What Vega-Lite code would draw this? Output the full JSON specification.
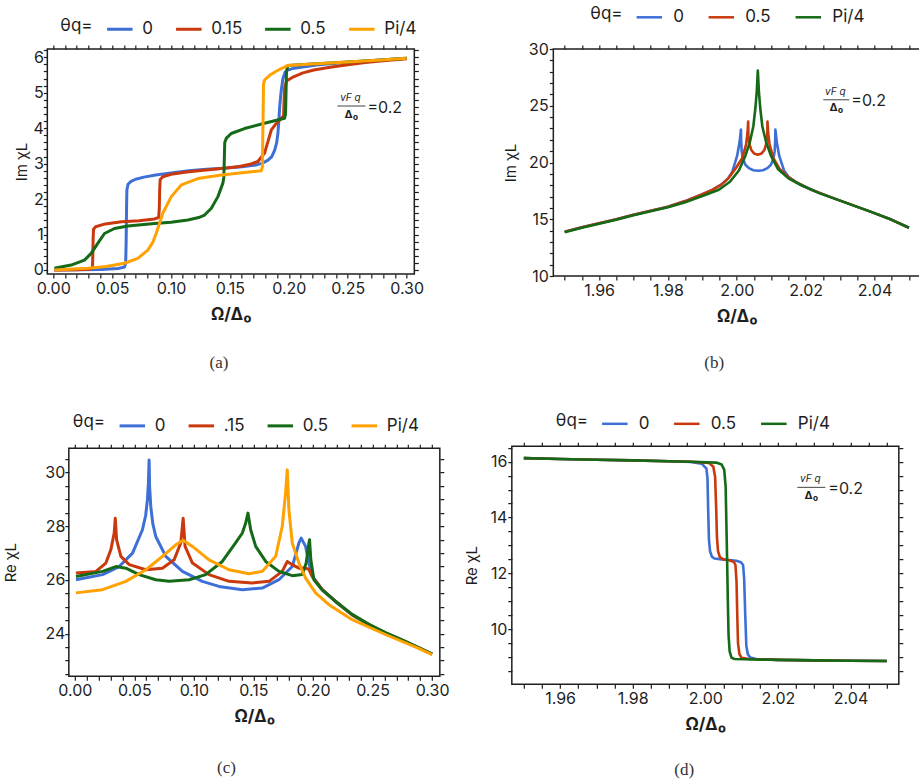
{
  "$schema": "https://vega.github.io/schema/vega-lite/v6.json",
  "background": "white",
  "autosize": {"type": "pad"},
  "padding": {"left": 3, "top": 2, "right": 0, "bottom": 0},
  "datasets": {
    "a": [
      {"x":0.001,"y":0,"s":"0"},{"x":0.02,"y":0.005,"s":"0"},{"x":0.04,"y":0.015,"s":"0"},{"x":0.055,"y":0.04,"s":"0"},{"x":0.0605,"y":0.08,"s":"0"},{"x":0.0615,"y":0.2,"s":"0"},{"x":0.0619,"y":0.8,"s":"0"},{"x":0.0622,"y":1.6,"s":"0"},{"x":0.0625,"y":2.25,"s":"0"},{"x":0.0635,"y":2.42,"s":"0"},{"x":0.066,"y":2.5,"s":"0"},{"x":0.07,"y":2.56,"s":"0"},{"x":0.077,"y":2.62,"s":"0"},{"x":0.087,"y":2.68,"s":"0"},{"x":0.1,"y":2.74,"s":"0"},{"x":0.115,"y":2.8,"s":"0"},{"x":0.13,"y":2.84,"s":"0"},{"x":0.145,"y":2.87,"s":"0"},{"x":0.16,"y":2.91,"s":"0"},{"x":0.172,"y":2.96,"s":"0"},{"x":0.178,"y":3.02,"s":"0"},{"x":0.1823,"y":3.1,"s":"0"},{"x":0.1855,"y":3.2,"s":"0"},{"x":0.188,"y":3.38,"s":"0"},{"x":0.1897,"y":3.6,"s":"0"},{"x":0.1907,"y":3.85,"s":"0"},{"x":0.1915,"y":4.2,"s":"0"},{"x":0.1922,"y":4.6,"s":"0"},{"x":0.1935,"y":5.05,"s":"0"},{"x":0.195,"y":5.4,"s":"0"},{"x":0.1968,"y":5.58,"s":"0"},{"x":0.1985,"y":5.63,"s":"0"},{"x":0.203,"y":5.68,"s":"0"},{"x":0.21,"y":5.72,"s":"0"},{"x":0.225,"y":5.79,"s":"0"},{"x":0.25,"y":5.86,"s":"0"},{"x":0.275,"y":5.92,"s":"0"},{"x":0.3,"y":5.97,"s":"0"},
      {"x":0.001,"y":0,"s":"0.15"},{"x":0.02,"y":0.01,"s":"0.15"},{"x":0.03,"y":0.02,"s":"0.15"},{"x":0.0333,"y":0.05,"s":"0.15"},{"x":0.0336,"y":0.4,"s":"0.15"},{"x":0.0339,"y":0.9,"s":"0.15"},{"x":0.0342,"y":1.15,"s":"0.15"},{"x":0.036,"y":1.22,"s":"0.15"},{"x":0.0442,"y":1.3,"s":"0.15"},{"x":0.058,"y":1.36,"s":"0.15"},{"x":0.0728,"y":1.39,"s":"0.15"},{"x":0.086,"y":1.44,"s":"0.15"},{"x":0.0895,"y":1.48,"s":"0.15"},{"x":0.09,"y":1.7,"s":"0.15"},{"x":0.0904,"y":2.3,"s":"0.15"},{"x":0.0908,"y":2.55,"s":"0.15"},{"x":0.093,"y":2.63,"s":"0.15"},{"x":0.1,"y":2.7,"s":"0.15"},{"x":0.115,"y":2.77,"s":"0.15"},{"x":0.13,"y":2.82,"s":"0.15"},{"x":0.145,"y":2.87,"s":"0.15"},{"x":0.158,"y":2.92,"s":"0.15"},{"x":0.168,"y":2.99,"s":"0.15"},{"x":0.1737,"y":3.06,"s":"0.15"},{"x":0.1794,"y":3.3,"s":"0.15"},{"x":0.1825,"y":3.65,"s":"0.15"},{"x":0.1851,"y":3.95,"s":"0.15"},{"x":0.189,"y":4.12,"s":"0.15"},{"x":0.1936,"y":4.28,"s":"0.15"},{"x":0.1955,"y":4.35,"s":"0.15"},{"x":0.196,"y":4.8,"s":"0.15"},{"x":0.1965,"y":5.15,"s":"0.15"},{"x":0.198,"y":5.33,"s":"0.15"},{"x":0.204,"y":5.45,"s":"0.15"},{"x":0.212,"y":5.56,"s":"0.15"},{"x":0.2212,"y":5.64,"s":"0.15"},{"x":0.235,"y":5.72,"s":"0.15"},{"x":0.25,"y":5.79,"s":"0.15"},{"x":0.265,"y":5.85,"s":"0.15"},{"x":0.28,"y":5.9,"s":"0.15"},{"x":0.3,"y":5.96,"s":"0.15"},
      {"x":0.001,"y":0.05,"s":"0.5"},{"x":0.0152,"y":0.14,"s":"0.5"},{"x":0.0265,"y":0.28,"s":"0.5"},{"x":0.0322,"y":0.47,"s":"0.5"},{"x":0.0378,"y":0.75,"s":"0.5"},{"x":0.0435,"y":1.03,"s":"0.5"},{"x":0.052,"y":1.17,"s":"0.5"},{"x":0.0633,"y":1.24,"s":"0.5"},{"x":0.086,"y":1.31,"s":"0.5"},{"x":0.1,"y":1.35,"s":"0.5"},{"x":0.1143,"y":1.41,"s":"0.5"},{"x":0.1235,"y":1.48,"s":"0.5"},{"x":0.1285,"y":1.55,"s":"0.5"},{"x":0.1342,"y":1.74,"s":"0.5"},{"x":0.1398,"y":2.07,"s":"0.5"},{"x":0.144,"y":2.45,"s":"0.5"},{"x":0.1448,"y":2.6,"s":"0.5"},{"x":0.1452,"y":3.1,"s":"0.5"},{"x":0.1456,"y":3.6,"s":"0.5"},{"x":0.147,"y":3.72,"s":"0.5"},{"x":0.1511,"y":3.85,"s":"0.5"},{"x":0.1624,"y":3.99,"s":"0.5"},{"x":0.1794,"y":4.14,"s":"0.5"},{"x":0.1964,"y":4.28,"s":"0.5"},{"x":0.1972,"y":4.4,"s":"0.5"},{"x":0.1976,"y":5.0,"s":"0.5"},{"x":0.198,"y":5.6,"s":"0.5"},{"x":0.1992,"y":5.77,"s":"0.5"},{"x":0.22,"y":5.81,"s":"0.5"},{"x":0.25,"y":5.87,"s":"0.5"},{"x":0.275,"y":5.92,"s":"0.5"},{"x":0.3,"y":5.97,"s":"0.5"},
      {"x":0.001,"y":0,"s":"Pi/4"},{"x":0.0293,"y":0.05,"s":"Pi/4"},{"x":0.045,"y":0.1,"s":"Pi/4"},{"x":0.0605,"y":0.19,"s":"Pi/4"},{"x":0.0718,"y":0.33,"s":"Pi/4"},{"x":0.0803,"y":0.56,"s":"Pi/4"},{"x":0.0845,"y":0.78,"s":"Pi/4"},{"x":0.0874,"y":1.03,"s":"Pi/4"},{"x":0.093,"y":1.6,"s":"Pi/4"},{"x":0.1002,"y":2.07,"s":"Pi/4"},{"x":0.1087,"y":2.4,"s":"Pi/4"},{"x":0.1228,"y":2.58,"s":"Pi/4"},{"x":0.1426,"y":2.68,"s":"Pi/4"},{"x":0.1624,"y":2.75,"s":"Pi/4"},{"x":0.1766,"y":2.8,"s":"Pi/4"},{"x":0.1775,"y":2.9,"s":"Pi/4"},{"x":0.178,"y":4.0,"s":"Pi/4"},{"x":0.1785,"y":5.25,"s":"Pi/4"},{"x":0.1794,"y":5.36,"s":"Pi/4"},{"x":0.184,"y":5.5,"s":"Pi/4"},{"x":0.19,"y":5.62,"s":"Pi/4"},{"x":0.1992,"y":5.77,"s":"Pi/4"},{"x":0.22,"y":5.81,"s":"Pi/4"},{"x":0.25,"y":5.87,"s":"Pi/4"},{"x":0.275,"y":5.92,"s":"Pi/4"},{"x":0.3,"y":5.97,"s":"Pi/4"}
    ],
    "b": [
      {"x":1.95,"y":13.9,"s":"0"},{"x":1.955,"y":14.3,"s":"0"},{"x":1.96,"y":14.65,"s":"0"},{"x":1.965,"y":15.0,"s":"0"},{"x":1.97,"y":15.4,"s":"0"},{"x":1.975,"y":15.75,"s":"0"},{"x":1.98,"y":16.1,"s":"0"},{"x":1.985,"y":16.6,"s":"0"},{"x":1.99,"y":17.2,"s":"0"},{"x":1.993,"y":17.6,"s":"0"},{"x":1.9955,"y":18.05,"s":"0"},{"x":1.9975,"y":18.6,"s":"0"},{"x":1.9987,"y":19.2,"s":"0"},{"x":2.0001,"y":20.6,"s":"0"},{"x":2.0008,"y":21.8,"s":"0"},{"x":2.0012,"y":22.9,"s":"0"},{"x":2.00125,"y":22.0,"s":"0"},{"x":2.0014,"y":21.0,"s":"0"},{"x":2.0018,"y":20.3,"s":"0"},{"x":2.0025,"y":19.8,"s":"0"},{"x":2.0035,"y":19.5,"s":"0"},{"x":2.0048,"y":19.32,"s":"0"},{"x":2.0062,"y":19.27,"s":"0"},{"x":2.0076,"y":19.32,"s":"0"},{"x":2.0089,"y":19.5,"s":"0"},{"x":2.0099,"y":19.8,"s":"0"},{"x":2.0106,"y":20.3,"s":"0"},{"x":2.011,"y":21.0,"s":"0"},{"x":2.01115,"y":22.0,"s":"0"},{"x":2.0112,"y":22.9,"s":"0"},{"x":2.0116,"y":21.8,"s":"0"},{"x":2.0123,"y":20.6,"s":"0"},{"x":2.0137,"y":19.3,"s":"0"},{"x":2.015,"y":18.75,"s":"0"},{"x":2.017,"y":18.3,"s":"0"},{"x":2.019,"y":17.98,"s":"0"},{"x":2.024,"y":17.3,"s":"0"},{"x":2.029,"y":16.75,"s":"0"},{"x":2.034,"y":16.2,"s":"0"},{"x":2.039,"y":15.65,"s":"0"},{"x":2.045,"y":14.95,"s":"0"},{"x":2.05,"y":14.25,"s":"0"},
      {"x":1.95,"y":13.9,"s":"0.5"},{"x":1.955,"y":14.3,"s":"0.5"},{"x":1.96,"y":14.65,"s":"0.5"},{"x":1.965,"y":15.0,"s":"0.5"},{"x":1.97,"y":15.4,"s":"0.5"},{"x":1.975,"y":15.75,"s":"0.5"},{"x":1.98,"y":16.1,"s":"0.5"},{"x":1.985,"y":16.6,"s":"0.5"},{"x":1.99,"y":17.2,"s":"0.5"},{"x":1.993,"y":17.6,"s":"0.5"},{"x":1.9955,"y":18.05,"s":"0.5"},{"x":1.9975,"y":18.6,"s":"0.5"},{"x":1.9995,"y":19.4,"s":"0.5"},{"x":2.0016,"y":20.4,"s":"0.5"},{"x":2.0027,"y":21.6,"s":"0.5"},{"x":2.0031,"y":22.6,"s":"0.5"},{"x":2.0033,"y":23.6,"s":"0.5"},{"x":2.00335,"y":22.4,"s":"0.5"},{"x":2.0037,"y":21.6,"s":"0.5"},{"x":2.0042,"y":21.1,"s":"0.5"},{"x":2.005,"y":20.8,"s":"0.5"},{"x":2.0061,"y":20.68,"s":"0.5"},{"x":2.0072,"y":20.8,"s":"0.5"},{"x":2.008,"y":21.1,"s":"0.5"},{"x":2.0085,"y":21.6,"s":"0.5"},{"x":2.00885,"y":22.4,"s":"0.5"},{"x":2.0089,"y":23.6,"s":"0.5"},{"x":2.0091,"y":22.6,"s":"0.5"},{"x":2.0095,"y":21.6,"s":"0.5"},{"x":2.0106,"y":20.4,"s":"0.5"},{"x":2.0125,"y":19.4,"s":"0.5"},{"x":2.015,"y":18.7,"s":"0.5"},{"x":2.018,"y":18.15,"s":"0.5"},{"x":2.022,"y":17.55,"s":"0.5"},{"x":2.029,"y":16.75,"s":"0.5"},{"x":2.034,"y":16.2,"s":"0.5"},{"x":2.039,"y":15.65,"s":"0.5"},{"x":2.045,"y":14.95,"s":"0.5"},{"x":2.05,"y":14.25,"s":"0.5"},
      {"x":1.95,"y":13.85,"s":"Pi/4"},{"x":1.955,"y":14.25,"s":"Pi/4"},{"x":1.96,"y":14.6,"s":"Pi/4"},{"x":1.965,"y":14.95,"s":"Pi/4"},{"x":1.97,"y":15.35,"s":"Pi/4"},{"x":1.975,"y":15.7,"s":"Pi/4"},{"x":1.98,"y":16.05,"s":"Pi/4"},{"x":1.985,"y":16.5,"s":"Pi/4"},{"x":1.99,"y":17.05,"s":"Pi/4"},{"x":1.9948,"y":17.6,"s":"Pi/4"},{"x":1.998,"y":18.3,"s":"Pi/4"},{"x":2.0006,"y":19.3,"s":"Pi/4"},{"x":2.0025,"y":20.6,"s":"Pi/4"},{"x":2.0038,"y":21.8,"s":"Pi/4"},{"x":2.0048,"y":23.2,"s":"Pi/4"},{"x":2.0054,"y":24.8,"s":"Pi/4"},{"x":2.0058,"y":26.3,"s":"Pi/4"},{"x":2.0061,"y":28.1,"s":"Pi/4"},{"x":2.0064,"y":26.3,"s":"Pi/4"},{"x":2.0068,"y":24.8,"s":"Pi/4"},{"x":2.0074,"y":23.2,"s":"Pi/4"},{"x":2.0085,"y":21.8,"s":"Pi/4"},{"x":2.0099,"y":20.6,"s":"Pi/4"},{"x":2.012,"y":19.4,"s":"Pi/4"},{"x":2.015,"y":18.6,"s":"Pi/4"},{"x":2.019,"y":17.95,"s":"Pi/4"},{"x":2.024,"y":17.3,"s":"Pi/4"},{"x":2.029,"y":16.75,"s":"Pi/4"},{"x":2.034,"y":16.2,"s":"Pi/4"},{"x":2.039,"y":15.65,"s":"Pi/4"},{"x":2.045,"y":14.95,"s":"Pi/4"},{"x":2.05,"y":14.25,"s":"Pi/4"}
    ],
    "c": [
      {"x":0.001,"y":26.01,"s":"0"},{"x":0.0233,"y":26.2,"s":"0"},{"x":0.0373,"y":26.5,"s":"0"},{"x":0.0485,"y":27.0,"s":"0"},{"x":0.0568,"y":27.87,"s":"0"},{"x":0.0595,"y":28.4,"s":"0"},{"x":0.061,"y":28.99,"s":"0"},{"x":0.0618,"y":29.6,"s":"0"},{"x":0.0624,"y":30.47,"s":"0"},{"x":0.0628,"y":29.5,"s":"0"},{"x":0.0638,"y":28.74,"s":"0"},{"x":0.0655,"y":28.1,"s":"0"},{"x":0.068,"y":27.62,"s":"0"},{"x":0.0764,"y":26.88,"s":"0"},{"x":0.0904,"y":26.32,"s":"0"},{"x":0.1071,"y":25.95,"s":"0"},{"x":0.1211,"y":25.76,"s":"0"},{"x":0.1407,"y":25.64,"s":"0"},{"x":0.1574,"y":25.7,"s":"0"},{"x":0.1714,"y":26.01,"s":"0"},{"x":0.1826,"y":26.5,"s":"0"},{"x":0.1882,"y":27.38,"s":"0"},{"x":0.1901,"y":27.56,"s":"0"},{"x":0.1938,"y":27.25,"s":"0"},{"x":0.1966,"y":26.63,"s":"0"},{"x":0.1994,"y":26.13,"s":"0"},{"x":0.2078,"y":25.64,"s":"0"},{"x":0.219,"y":25.2,"s":"0"},{"x":0.2329,"y":24.7,"s":"0"},{"x":0.2469,"y":24.34,"s":"0"},{"x":0.2608,"y":24.03,"s":"0"},{"x":0.2748,"y":23.76,"s":"0"},{"x":0.2888,"y":23.47,"s":"0"},{"x":0.3,"y":23.24,"s":"0"},
      {"x":0.001,"y":26.26,"s":".15"},{"x":0.0178,"y":26.32,"s":".15"},{"x":0.0261,"y":26.63,"s":".15"},{"x":0.0303,"y":27.13,"s":".15"},{"x":0.0331,"y":27.75,"s":".15"},{"x":0.034,"y":28.3,"s":".15"},{"x":0.0351,"y":27.5,"s":".15"},{"x":0.0387,"y":26.88,"s":".15"},{"x":0.0457,"y":26.57,"s":".15"},{"x":0.0597,"y":26.38,"s":".15"},{"x":0.0736,"y":26.44,"s":".15"},{"x":0.0834,"y":26.75,"s":".15"},{"x":0.089,"y":27.38,"s":".15"},{"x":0.091,"y":28.3,"s":".15"},{"x":0.0926,"y":27.25,"s":".15"},{"x":0.0988,"y":26.63,"s":".15"},{"x":0.1127,"y":26.2,"s":".15"},{"x":0.1295,"y":25.95,"s":".15"},{"x":0.149,"y":25.89,"s":".15"},{"x":0.1631,"y":25.95,"s":".15"},{"x":0.1742,"y":26.32,"s":".15"},{"x":0.1784,"y":26.69,"s":".15"},{"x":0.1826,"y":26.57,"s":".15"},{"x":0.1882,"y":26.44,"s":".15"},{"x":0.193,"y":26.45,"s":".15"},{"x":0.1965,"y":26.4,"s":".15"},{"x":0.1994,"y":26.13,"s":".15"},{"x":0.2078,"y":25.64,"s":".15"},{"x":0.219,"y":25.2,"s":".15"},{"x":0.2329,"y":24.7,"s":".15"},{"x":0.2469,"y":24.34,"s":".15"},{"x":0.2608,"y":24.03,"s":".15"},{"x":0.2748,"y":23.76,"s":".15"},{"x":0.2888,"y":23.47,"s":".15"},{"x":0.3,"y":23.24,"s":".15"},
      {"x":0.001,"y":26.13,"s":"0.5"},{"x":0.0233,"y":26.32,"s":"0.5"},{"x":0.0345,"y":26.5,"s":"0.5"},{"x":0.0429,"y":26.44,"s":"0.5"},{"x":0.054,"y":26.2,"s":"0.5"},{"x":0.068,"y":26.01,"s":"0.5"},{"x":0.0792,"y":25.95,"s":"0.5"},{"x":0.096,"y":26.01,"s":"0.5"},{"x":0.1099,"y":26.2,"s":"0.5"},{"x":0.1239,"y":26.69,"s":"0.5"},{"x":0.135,"y":27.38,"s":"0.5"},{"x":0.1407,"y":27.75,"s":"0.5"},{"x":0.1435,"y":28.12,"s":"0.5"},{"x":0.1454,"y":28.49,"s":"0.5"},{"x":0.1477,"y":27.87,"s":"0.5"},{"x":0.1519,"y":27.25,"s":"0.5"},{"x":0.1603,"y":26.69,"s":"0.5"},{"x":0.1714,"y":26.32,"s":"0.5"},{"x":0.1826,"y":26.16,"s":"0.5"},{"x":0.191,"y":26.2,"s":"0.5"},{"x":0.1943,"y":26.63,"s":"0.5"},{"x":0.1966,"y":27.38,"s":"0.5"},{"x":0.1971,"y":27.5,"s":"0.5"},{"x":0.1982,"y":26.75,"s":"0.5"},{"x":0.2008,"y":26.01,"s":"0.5"},{"x":0.2078,"y":25.62,"s":"0.5"},{"x":0.219,"y":25.2,"s":"0.5"},{"x":0.2329,"y":24.72,"s":"0.5"},{"x":0.2469,"y":24.35,"s":"0.5"},{"x":0.2608,"y":24.04,"s":"0.5"},{"x":0.2748,"y":23.77,"s":"0.5"},{"x":0.2888,"y":23.48,"s":"0.5"},{"x":0.3,"y":23.25,"s":"0.5"},
      {"x":0.001,"y":25.52,"s":"Pi/4"},{"x":0.0233,"y":25.64,"s":"Pi/4"},{"x":0.0429,"y":25.95,"s":"Pi/4"},{"x":0.0597,"y":26.38,"s":"Pi/4"},{"x":0.0736,"y":26.88,"s":"Pi/4"},{"x":0.0848,"y":27.31,"s":"Pi/4"},{"x":0.091,"y":27.48,"s":"Pi/4"},{"x":0.0988,"y":27.25,"s":"Pi/4"},{"x":0.1127,"y":26.75,"s":"Pi/4"},{"x":0.1295,"y":26.38,"s":"Pi/4"},{"x":0.1463,"y":26.23,"s":"Pi/4"},{"x":0.1574,"y":26.32,"s":"Pi/4"},{"x":0.1687,"y":26.88,"s":"Pi/4"},{"x":0.1742,"y":28.0,"s":"Pi/4"},{"x":0.177,"y":29.24,"s":"Pi/4"},{"x":0.1784,"y":30.1,"s":"Pi/4"},{"x":0.1798,"y":28.61,"s":"Pi/4"},{"x":0.1826,"y":27.38,"s":"Pi/4"},{"x":0.1882,"y":26.63,"s":"Pi/4"},{"x":0.1938,"y":26.07,"s":"Pi/4"},{"x":0.2022,"y":25.52,"s":"Pi/4"},{"x":0.2134,"y":25.08,"s":"Pi/4"},{"x":0.2329,"y":24.52,"s":"Pi/4"},{"x":0.2608,"y":23.97,"s":"Pi/4"},{"x":0.2888,"y":23.45,"s":"Pi/4"},{"x":0.3,"y":23.22,"s":"Pi/4"}
    ],
    "d": [
      {"x":1.95,"y":16.13,"s":"0"},{"x":1.96,"y":16.1,"s":"0"},{"x":1.97,"y":16.07,"s":"0"},{"x":1.98,"y":16.05,"s":"0"},{"x":1.99,"y":16.02,"s":"0"},{"x":1.996,"y":15.99,"s":"0"},{"x":1.999,"y":15.93,"s":"0"},{"x":2.0003,"y":15.75,"s":"0"},{"x":2.0006,"y":15.4,"s":"0"},{"x":2.0008,"y":14.2,"s":"0"},{"x":2.001,"y":13.2,"s":"0"},{"x":2.0013,"y":12.8,"s":"0"},{"x":2.0018,"y":12.6,"s":"0"},{"x":2.0025,"y":12.53,"s":"0"},{"x":2.0045,"y":12.5,"s":"0"},{"x":2.0065,"y":12.48,"s":"0"},{"x":2.0085,"y":12.45,"s":"0"},{"x":2.0098,"y":12.4,"s":"0"},{"x":2.0104,"y":12.3,"s":"0"},{"x":2.0107,"y":11.8,"s":"0"},{"x":2.011,"y":10.5,"s":"0"},{"x":2.0113,"y":9.4,"s":"0"},{"x":2.0117,"y":9.1,"s":"0"},{"x":2.0124,"y":8.98,"s":"0"},{"x":2.014,"y":8.93,"s":"0"},{"x":2.02,"y":8.9,"s":"0"},{"x":2.03,"y":8.88,"s":"0"},{"x":2.04,"y":8.87,"s":"0"},{"x":2.05,"y":8.86,"s":"0"},
      {"x":1.95,"y":16.13,"s":"0.5"},{"x":1.96,"y":16.1,"s":"0.5"},{"x":1.97,"y":16.07,"s":"0.5"},{"x":1.98,"y":16.05,"s":"0.5"},{"x":1.99,"y":16.02,"s":"0.5"},{"x":1.996,"y":16.0,"s":"0.5"},{"x":2.001,"y":15.96,"s":"0.5"},{"x":2.0022,"y":15.82,"s":"0.5"},{"x":2.0027,"y":15.45,"s":"0.5"},{"x":2.003,"y":14.3,"s":"0.5"},{"x":2.0032,"y":13.3,"s":"0.5"},{"x":2.0035,"y":12.8,"s":"0.5"},{"x":2.004,"y":12.58,"s":"0.5"},{"x":2.005,"y":12.5,"s":"0.5"},{"x":2.0065,"y":12.47,"s":"0.5"},{"x":2.0078,"y":12.42,"s":"0.5"},{"x":2.0083,"y":12.3,"s":"0.5"},{"x":2.0086,"y":11.7,"s":"0.5"},{"x":2.0088,"y":10.5,"s":"0.5"},{"x":2.009,"y":9.5,"s":"0.5"},{"x":2.0094,"y":9.1,"s":"0.5"},{"x":2.01,"y":8.97,"s":"0.5"},{"x":2.012,"y":8.93,"s":"0.5"},{"x":2.02,"y":8.9,"s":"0.5"},{"x":2.03,"y":8.88,"s":"0.5"},{"x":2.04,"y":8.87,"s":"0.5"},{"x":2.05,"y":8.86,"s":"0.5"},
      {"x":1.95,"y":16.13,"s":"Pi/4"},{"x":1.96,"y":16.1,"s":"Pi/4"},{"x":1.97,"y":16.07,"s":"Pi/4"},{"x":1.98,"y":16.05,"s":"Pi/4"},{"x":1.99,"y":16.02,"s":"Pi/4"},{"x":1.996,"y":16.0,"s":"Pi/4"},{"x":2.003,"y":15.97,"s":"Pi/4"},{"x":2.0045,"y":15.9,"s":"Pi/4"},{"x":2.0052,"y":15.72,"s":"Pi/4"},{"x":2.0056,"y":15.1,"s":"Pi/4"},{"x":2.0058,"y":13.8,"s":"Pi/4"},{"x":2.006,"y":12.5,"s":"Pi/4"},{"x":2.0062,"y":11.0,"s":"Pi/4"},{"x":2.0064,"y":9.8,"s":"Pi/4"},{"x":2.0067,"y":9.2,"s":"Pi/4"},{"x":2.0072,"y":8.98,"s":"Pi/4"},{"x":2.008,"y":8.93,"s":"Pi/4"},{"x":2.02,"y":8.9,"s":"Pi/4"},{"x":2.03,"y":8.88,"s":"Pi/4"},{"x":2.04,"y":8.87,"s":"Pi/4"},{"x":2.05,"y":8.86,"s":"Pi/4"}
    ]
  },
  "vconcat": [
    {
      "spacing": 77,
      "resolve": {"scale": {"color": "independent", "x": "independent", "y": "independent"}, "legend": {"color": "independent"}},
      "hconcat": [
        {
          "width": 367, "height": 225,
          "data": {"name": "a"},
          "title": {"text": "(a)", "offset": 33},
          "layer": [
            {
              "mark": {"type": "line", "strokeWidth": 3, "strokeJoin": "round"},
              "encoding": {
                "x": {"field": "x", "type": "quantitative", "scale": {"domain": [-0.005, 0.3065], "nice": false, "zero": false},
                  "axis": {"orient": "bottom", "title": "Ω/Δ₀", "titleFontSize": 17, "titleFontWeight": "bold", "titlePadding": 10, "labelPadding": 2,
                    "values": [0,0.01,0.02,0.03,0.04,0.05,0.06,0.07,0.08,0.09,0.1,0.11,0.12,0.13,0.14,0.15,0.16,0.17,0.18,0.19,0.2,0.21,0.22,0.23,0.24,0.25,0.26,0.27,0.28,0.29,0.3],
                    "labelExpr": "round(datum.value*100) % 5 === 0 ? format(datum.value, '.2f') : ''",
                    "encode": {"ticks": {"y2": {"condition": {"test": "round(datum.value*100) % 5 === 0", "value": -4}, "value": -2}}}}},
                "y": {"field": "y", "type": "quantitative", "scale": {"domain": [-0.113, 6.234], "nice": false, "zero": false},
                  "axis": {"orient": "left", "title": "Im χL", "titleFontSize": 15, "titleX": -18, "labelPadding": 0,
                    "values": [0,0.2,0.4,0.6,0.8,1,1.2,1.4,1.6,1.8,2,2.2,2.4,2.6,2.8,3,3.2,3.4,3.6,3.8,4,4.2,4.4,4.6,4.8,5,5.2,5.4,5.6,5.8,6,6.2],
                    "labelExpr": "abs(datum.value - round(datum.value)) < 1e-6 ? format(datum.value, 'd') : ''",
                    "encode": {"ticks": {"x2": {"condition": {"test": "abs(datum.value - round(datum.value)) < 1e-6", "value": 4}, "value": 2}}}}},
                "color": {"field": "s", "type": "nominal",
                  "scale": {"domain": ["0", "0.15", "0.5", "Pi/4"], "range": ["#3d6fd6", "#c9390d", "#146a16", "#ffa100"]},
                  "legend": {"title": "θq=", "legendX": 13, "legendY": -34.5, "padding": 0, "symbolStrokeWidth": 3}}
              }
            },
            {
              "mark": {"type": "point", "opacity": 0},
              "encoding": {
                "x": {"field": "x", "type": "quantitative",
                  "axis": {"orient": "top", "title": null, "labels": false,
                    "values": [0,0.01,0.02,0.03,0.04,0.05,0.06,0.07,0.08,0.09,0.1,0.11,0.12,0.13,0.14,0.15,0.16,0.17,0.18,0.19,0.2,0.21,0.22,0.23,0.24,0.25,0.26,0.27,0.28,0.29,0.3],
                    "encode": {"ticks": {"y2": {"condition": {"test": "round(datum.value*100) % 5 === 0", "value": 4}, "value": 2}}}}},
                "y": {"field": "y", "type": "quantitative",
                  "axis": {"orient": "right", "title": null, "labels": false,
                    "values": [0,0.2,0.4,0.6,0.8,1,1.2,1.4,1.6,1.8,2,2.2,2.4,2.6,2.8,3,3.2,3.4,3.6,3.8,4,4.2,4.4,4.6,4.8,5,5.2,5.4,5.6,5.8,6,6.2],
                    "encode": {"ticks": {"x2": {"condition": {"test": "abs(datum.value - round(datum.value)) < 1e-6", "value": -4}, "value": -2}}}}}
              }
            },
            {
              "data": {"values": [{}]},
              "mark": {"type": "text", "text": "vF q", "fontSize": 10, "fontStyle": "italic", "dx": -1, "dy": -8, "color": "#1e1e1e"},
              "encoding": {"x": {"datum": 0.2531, "type": "quantitative", "axis": null}, "y": {"datum": 4.626, "type": "quantitative", "axis": null}}
            },
            {
              "data": {"values": [{}]},
              "mark": {"type": "tick", "orient": "horizontal", "size": 28, "thickness": 1.2, "color": "#1e1e1e"},
              "encoding": {"x": {"datum": 0.2531, "type": "quantitative", "axis": null}, "y": {"datum": 4.626, "type": "quantitative", "axis": null}}
            },
            {
              "data": {"values": [{}]},
              "mark": {"type": "text", "text": "Δ₀", "fontSize": 11, "fontWeight": "bold", "dy": 8.5, "color": "#1e1e1e"},
              "encoding": {"x": {"datum": 0.2531, "type": "quantitative", "axis": null}, "y": {"datum": 4.626, "type": "quantitative", "axis": null}}
            },
            {
              "data": {"values": [{}]},
              "mark": {"type": "text", "text": "=0.2", "fontSize": 16, "align": "left", "dx": 16, "dy": 1.5, "color": "#1e1e1e"},
              "encoding": {"x": {"datum": 0.2531, "type": "quantitative", "axis": null}, "y": {"datum": 4.626, "type": "quantitative", "axis": null}}
            }
          ],
          "resolve": {"axis": {"x": "independent", "y": "independent"}}
        },
        {
          "width": 367, "height": 227,
          "data": {"name": "b"},
          "title": {"text": "(b)", "offset": 31},
          "layer": [
            {
              "mark": {"type": "line", "strokeWidth": 2.6, "strokeJoin": "round"},
              "encoding": {
                "x": {"field": "x", "type": "quantitative", "scale": {"domain": [1.9467, 2.0533], "nice": false, "zero": false},
                  "axis": {"orient": "bottom", "title": "Ω/Δ₀", "titleFontSize": 17, "titleFontWeight": "bold", "titlePadding": 10, "labelPadding": 2,
                    "values": [1.95,1.955,1.96,1.965,1.97,1.975,1.98,1.985,1.99,1.995,2,2.005,2.01,2.015,2.02,2.025,2.03,2.035,2.04,2.045,2.05],
                    "labelExpr": "round(datum.value*1000) % 20 === 0 ? format(datum.value, '.2f') : ''",
                    "encode": {"ticks": {"y2": {"condition": {"test": "round(datum.value*1000) % 20 === 0", "value": -4}, "value": -2}}}}},
                "y": {"field": "y", "type": "quantitative", "scale": {"domain": [10, 30], "nice": false, "zero": false},
                  "axis": {"orient": "left", "title": "Im χL", "titleFontSize": 15, "titlePadding": 10, "labelPadding": 1,
                    "values": [10,11,12,13,14,15,16,17,18,19,20,21,22,23,24,25,26,27,28,29,30],
                    "labelExpr": "datum.value % 5 === 0 ? format(datum.value, 'd') : ''",
                    "encode": {"ticks": {"x2": {"condition": {"test": "datum.value % 5 === 0", "value": 4}, "value": 2}}}}},
                "color": {"field": "s", "type": "nominal",
                  "scale": {"domain": ["0", "0.5", "Pi/4"], "range": ["#3d6fd6", "#c9390d", "#146a16"]},
                  "legend": {"title": "θq=", "legendX": 37, "legendY": -45.7, "padding": 0, "symbolStrokeWidth": 2.5, "labelOffset": 10, "columnPadding": 19}}
              }
            },
            {
              "mark": {"type": "point", "opacity": 0},
              "encoding": {
                "x": {"field": "x", "type": "quantitative",
                  "axis": {"orient": "top", "title": null, "labels": false,
                    "values": [1.95,1.955,1.96,1.965,1.97,1.975,1.98,1.985,1.99,1.995,2,2.005,2.01,2.015,2.02,2.025,2.03,2.035,2.04,2.045,2.05],
                    "encode": {"ticks": {"y2": {"condition": {"test": "round(datum.value*1000) % 20 === 0", "value": 4}, "value": 2}}}}},
                "y": {"field": "y", "type": "quantitative",
                  "axis": {"orient": "right", "title": null, "labels": false,
                    "values": [10,11,12,13,14,15,16,17,18,19,20,21,22,23,24,25,26,27,28,29,30],
                    "encode": {"ticks": {"x2": {"condition": {"test": "datum.value % 5 === 0", "value": -4}, "value": -2}}}}}
              }
            },
            {
              "data": {"values": [{}]},
              "mark": {"type": "text", "text": "vF q", "fontSize": 10, "fontStyle": "italic", "dx": -1, "dy": -8, "color": "#1e1e1e"},
              "encoding": {"x": {"datum": 2.0289, "type": "quantitative", "axis": null}, "y": {"datum": 25.53, "type": "quantitative", "axis": null}}
            },
            {
              "data": {"values": [{}]},
              "mark": {"type": "tick", "orient": "horizontal", "size": 26, "thickness": 1.2, "color": "#1e1e1e"},
              "encoding": {"x": {"datum": 2.0289, "type": "quantitative", "axis": null}, "y": {"datum": 25.53, "type": "quantitative", "axis": null}}
            },
            {
              "data": {"values": [{}]},
              "mark": {"type": "text", "text": "Δ₀", "fontSize": 11, "fontWeight": "bold", "dy": 8.5, "color": "#1e1e1e"},
              "encoding": {"x": {"datum": 2.0289, "type": "quantitative", "axis": null}, "y": {"datum": 25.53, "type": "quantitative", "axis": null}}
            },
            {
              "data": {"values": [{}]},
              "mark": {"type": "text", "text": "=0.2", "fontSize": 16, "align": "left", "dx": 15, "dy": 1.5, "color": "#1e1e1e"},
              "encoding": {"x": {"datum": 2.0289, "type": "quantitative", "axis": null}, "y": {"datum": 25.53, "type": "quantitative", "axis": null}}
            }
          ],
          "resolve": {"axis": {"x": "independent", "y": "independent"}}
        }
      ]
    },
    {
      "spacing": 14,
      "center": true,
      "resolve": {"scale": {"color": "independent", "x": "independent", "y": "independent"}, "legend": {"color": "independent"}},
      "hconcat": [
        {
          "width": 371, "height": 228,
          "data": {"name": "c"},
          "title": {"text": "(c)"},
          "layer": [
            {
              "mark": {"type": "line", "strokeWidth": 3, "strokeJoin": "round"},
              "encoding": {
                "x": {"field": "x", "type": "quantitative", "scale": {"domain": [-0.005, 0.3065], "nice": false, "zero": false},
                  "axis": {"orient": "bottom", "title": "Ω/Δ₀", "titleFontSize": 17, "titleFontWeight": "bold", "titlePadding": 10, "labelPadding": 2,
                    "values": [0,0.01,0.02,0.03,0.04,0.05,0.06,0.07,0.08,0.09,0.1,0.11,0.12,0.13,0.14,0.15,0.16,0.17,0.18,0.19,0.2,0.21,0.22,0.23,0.24,0.25,0.26,0.27,0.28,0.29,0.3],
                    "labelExpr": "round(datum.value*100) % 5 === 0 ? format(datum.value, '.2f') : ''",
                    "encode": {"ticks": {"y2": {"condition": {"test": "round(datum.value*100) % 5 === 0", "value": -4}, "value": -2}}}}},
                "y": {"field": "y", "type": "quantitative", "scale": {"domain": [22.42, 30.91], "nice": false, "zero": false},
                  "axis": {"orient": "left", "title": "Re χL", "titleFontSize": 15, "titleX": -50, "labelPadding": 0,
                    "values": [22.5,23,23.5,24,24.5,25,25.5,26,26.5,27,27.5,28,28.5,29,29.5,30,30.5],
                    "labelExpr": "round(datum.value*2) % 4 === 0 ? format(datum.value, 'd') : ''",
                    "encode": {"ticks": {"x2": {"condition": {"test": "round(datum.value*2) % 4 === 0", "value": 4}, "value": 2}}}}},
                "color": {"field": "s", "type": "nominal",
                  "scale": {"domain": ["0", ".15", "0.5", "Pi/4"], "range": ["#3d6fd6", "#c9390d", "#146a16", "#ffa100"]},
                  "legend": {"title": "θq=", "legendX": -4.3, "legendY": -45.3, "padding": 8.3, "symbolStrokeWidth": 3}}
              }
            },
            {
              "mark": {"type": "point", "opacity": 0},
              "encoding": {
                "x": {"field": "x", "type": "quantitative",
                  "axis": {"orient": "top", "title": null, "labels": false,
                    "values": [0,0.01,0.02,0.03,0.04,0.05,0.06,0.07,0.08,0.09,0.1,0.11,0.12,0.13,0.14,0.15,0.16,0.17,0.18,0.19,0.2,0.21,0.22,0.23,0.24,0.25,0.26,0.27,0.28,0.29,0.3],
                    "encode": {"ticks": {"y2": {"condition": {"test": "round(datum.value*100) % 5 === 0", "value": 4}, "value": 2}}}}},
                "y": {"field": "y", "type": "quantitative",
                  "axis": {"orient": "right", "title": null, "labels": false,
                    "values": [22.5,23,23.5,24,24.5,25,25.5,26,26.5,27,27.5,28,28.5,29,29.5,30,30.5],
                    "encode": {"ticks": {"x2": {"condition": {"test": "round(datum.value*2) % 4 === 0", "value": -4}, "value": -2}}}}}
              }
            }
          ],
          "resolve": {"axis": {"x": "independent", "y": "independent"}}
        },
        {
          "width": 387, "height": 238,
          "data": {"name": "d"},
          "title": {"text": "(d)", "offset": 30},
          "layer": [
            {
              "mark": {"type": "line", "strokeWidth": 2.6, "strokeJoin": "round"},
              "encoding": {
                "x": {"field": "x", "type": "quantitative", "scale": {"domain": [1.9467, 2.0533], "nice": false, "zero": false},
                  "axis": {"orient": "bottom", "title": "Ω/Δ₀", "titleFontSize": 17, "titleFontWeight": "bold", "titlePadding": 10, "labelPadding": 2,
                    "values": [1.95,1.955,1.96,1.965,1.97,1.975,1.98,1.985,1.99,1.995,2,2.005,2.01,2.015,2.02,2.025,2.03,2.035,2.04,2.045,2.05],
                    "labelExpr": "round(datum.value*1000) % 20 === 0 ? format(datum.value, '.2f') : ''",
                    "encode": {"ticks": {"y2": {"condition": {"test": "round(datum.value*1000) % 20 === 0", "value": -4}, "value": -2}}}}},
                "y": {"field": "y", "type": "quantitative", "scale": {"domain": [8.03, 16.56], "nice": false, "zero": false},
                  "axis": {"orient": "left", "title": "Re χL", "titleFontSize": 15, "titlePadding": 10, "labelPadding": 1,
                    "values": [8.5,9,9.5,10,10.5,11,11.5,12,12.5,13,13.5,14,14.5,15,15.5,16,16.5],
                    "labelExpr": "round(datum.value*2) % 4 === 0 ? format(datum.value, 'd') : ''",
                    "encode": {"ticks": {"x2": {"condition": {"test": "round(datum.value*2) % 4 === 0", "value": 4}, "value": 2}}}}},
                "color": {"field": "s", "type": "nominal",
                  "scale": {"domain": ["0", "0.5", "Pi/4"], "range": ["#3d6fd6", "#c9390d", "#146a16"]},
                  "legend": {"title": "θq=", "legendX": 44, "legendY": -36.3, "padding": 0, "symbolStrokeWidth": 2.5, "labelOffset": 10, "columnPadding": 19}}
              }
            },
            {
              "mark": {"type": "point", "opacity": 0},
              "encoding": {
                "x": {"field": "x", "type": "quantitative",
                  "axis": {"orient": "top", "title": null, "labels": false,
                    "values": [1.95,1.955,1.96,1.965,1.97,1.975,1.98,1.985,1.99,1.995,2,2.005,2.01,2.015,2.02,2.025,2.03,2.035,2.04,2.045,2.05],
                    "encode": {"ticks": {"y2": {"condition": {"test": "round(datum.value*1000) % 20 === 0", "value": 4}, "value": 2}}}}},
                "y": {"field": "y", "type": "quantitative",
                  "axis": {"orient": "right", "title": null, "labels": false,
                    "values": [8.5,9,9.5,10,10.5,11,11.5,12,12.5,13,13.5,14,14.5,15,15.5,16,16.5],
                    "encode": {"ticks": {"x2": {"condition": {"test": "round(datum.value*2) % 4 === 0", "value": -4}, "value": -2}}}}}
              }
            },
            {
              "data": {"values": [{}]},
              "mark": {"type": "text", "text": "vF q", "fontSize": 10, "fontStyle": "italic", "dx": -1, "dy": -8, "color": "#1e1e1e"},
              "encoding": {"x": {"datum": 2.0292, "type": "quantitative", "axis": null}, "y": {"datum": 15.08, "type": "quantitative", "axis": null}}
            },
            {
              "data": {"values": [{}]},
              "mark": {"type": "tick", "orient": "horizontal", "size": 28, "thickness": 1.2, "color": "#1e1e1e"},
              "encoding": {"x": {"datum": 2.0292, "type": "quantitative", "axis": null}, "y": {"datum": 15.08, "type": "quantitative", "axis": null}}
            },
            {
              "data": {"values": [{}]},
              "mark": {"type": "text", "text": "Δ₀", "fontSize": 11, "fontWeight": "bold", "dy": 8.5, "color": "#1e1e1e"},
              "encoding": {"x": {"datum": 2.0292, "type": "quantitative", "axis": null}, "y": {"datum": 15.08, "type": "quantitative", "axis": null}}
            },
            {
              "data": {"values": [{}]},
              "mark": {"type": "text", "text": "=0.2", "fontSize": 16, "align": "left", "dx": 17, "dy": 1.5, "color": "#1e1e1e"},
              "encoding": {"x": {"datum": 2.0292, "type": "quantitative", "axis": null}, "y": {"datum": 15.08, "type": "quantitative", "axis": null}}
            }
          ],
          "resolve": {"axis": {"x": "independent", "y": "independent"}}
        }
      ]
    }
  ],
  "spacing": 30,
  "center": true,
  "resolve": {"scale": {"color": "independent"}, "legend": {"color": "independent"}},
  "config": {
    "font": "Inter",
    "view": {"stroke": "#1e1e1e", "strokeWidth": 1.5},
    "axis": {
      "grid": false, "domain": false, "ticks": true, "tickSize": 4, "tickColor": "#1e1e1e", "tickWidth": 1.2,
      "labelFont": "Inter", "labelFontSize": 16, "labelColor": "#1e1e1e", "labelOverlap": false, "labelFlush": false,
      "titleFont": "Inter", "titleColor": "#1e1e1e", "titleFontWeight": "normal"
    },
    "legend": {
      "orient": "none", "direction": "horizontal", "titleOrient": "left", "titleAnchor": "middle",
      "titleFont": "Inter", "titleFontSize": 17, "titleFontWeight": "normal", "titleColor": "#1e1e1e", "titlePadding": 12,
      "labelFont": "Inter", "labelFontSize": 17, "labelColor": "#1e1e1e", "labelOffset": 8,
      "symbolType": "stroke", "symbolSize": 650, "columnPadding": 16
    },
    "title": {
      "orient": "bottom", "anchor": "middle", "frame": "bounds", "font": "Liberation Serif", "fontSize": 17,
      "fontWeight": "normal", "color": "#333333", "offset": 36
    }
  }
}
